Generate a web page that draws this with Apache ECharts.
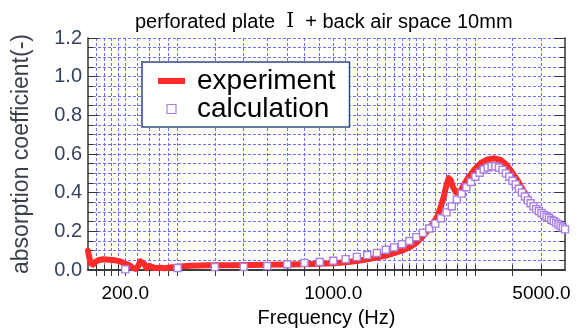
<!DOCTYPE html>
<html>
<head>
<meta charset="utf-8">
<script src="https://cdn.jsdelivr.net/npm/echarts@6/dist/echarts.min.js"></script>
<style>
  html, body { margin: 0; padding: 0; background: #fff; }
  #chart { width: 579px; height: 335px; }
</style>
</head>
<body>
<div id="chart"></div>
<script>
// measured absorption (red line)
const expFreq = [150, 151, 153, 156, 159, 163, 169, 176, 184, 191, 198, 206, 213, 217, 221, 225, 228, 232, 236, 241,
  246, 252, 262, 272, 282, 294, 306, 330, 380, 450, 520, 600, 700, 800, 900, 1000, 1100, 1200, 1300, 1400,
  1500, 1600, 1700, 1800, 1900, 2000, 2080, 2150, 2240, 2300, 2350, 2400, 2440, 2480, 2520, 2580, 2630, 2680, 2720, 2830,
  2980, 3140, 3300, 3480, 3660, 3810, 3960, 4170, 4390, 4630, 4880, 5000]
const expAbs = [0.100, 0.075, 0.035, 0.028, 0.042, 0.052, 0.056, 0.053, 0.050, 0.046, 0.036, 0.026, 0.010, 0.006, 0.020, 0.045, 0.052, 0.030, 0.010, 0.022,
  0.016, 0.010, 0.012, 0.009, 0.013, 0.016, 0.018, 0.022, 0.024, 0.025, 0.026, 0.027, 0.029, 0.030, 0.032, 0.035, 0.040, 0.047, 0.055, 0.064,
  0.075, 0.087, 0.100, 0.117, 0.140, 0.175, 0.205, 0.235, 0.280, 0.330, 0.380, 0.440, 0.475, 0.465, 0.430, 0.402, 0.396, 0.410, 0.430, 0.475,
  0.520, 0.555, 0.572, 0.578, 0.568, 0.545, 0.510, 0.460, 0.400, 0.345, 0.305, 0.290]

// calculated absorption (open squares)
const calcFreq = [200, 300, 400, 500, 600, 700, 800, 900, 1000, 1100, 1200, 1300, 1400, 1500, 1600, 1700, 1800, 1900, 2000,
  2100, 2200, 2300, 2400, 2500, 2600, 2700, 2800, 2900, 3000, 3100, 3200, 3300, 3400, 3500, 3600, 3700, 3800, 3900, 4000,
  4100, 4200, 4300, 4400, 4500, 4600, 4700, 4800, 4900, 5000, 5100, 5200, 5300, 5400, 5500, 5600, 5700, 5800, 5900, 6000]
const calcAbs = [0.003, 0.010, 0.015, 0.016, 0.020, 0.030, 0.037, 0.041, 0.048, 0.056, 0.068, 0.077, 0.088, 0.105, 0.117, 0.133, 0.150, 0.170, 0.192,
  0.215, 0.240, 0.268, 0.298, 0.330, 0.365, 0.395, 0.428, 0.455, 0.482, 0.503, 0.520, 0.530, 0.537, 0.537, 0.530, 0.518, 0.500, 0.482, 0.462,
  0.443, 0.420, 0.400, 0.380, 0.360, 0.345, 0.330, 0.315, 0.305, 0.295, 0.285, 0.277, 0.270, 0.260, 0.253, 0.245, 0.237, 0.228, 0.220, 0.210]

// log axis ticks / grid lines and labelled values
const xTicks = [160, 170, 180, 190, 200, 220, 240, 260, 280, 300, 400, 500, 600, 700, 800, 900, 1000,
  1100, 1200, 1300, 1400, 1500, 1600, 1700, 1800, 1900, 2000, 2200, 2400, 2600, 2800, 3000, 4000, 5000]
const xLabels = [200, 1000, 5000]

const FONT = "'Liberation Sans', Arial, 'Noto Sans CJK JP', sans-serif"
const gridLine = { color: '#6e6eff', width: 1, type: [3, 2] }
const axisLine = { show: true, lineStyle: { color: '#333', width: 1.5 } }

const chart = echarts.init(document.getElementById('chart'), null, { renderer: 'canvas' })

const xBase = {
  type: 'log',
  min: 150,
  max: 6000,
  gridIndex: 0,
  axisLine: axisLine
}
const yBase = {
  type: 'value',
  min: 0,
  max: 1.2,
  interval: 0.2,
  axisLine: axisLine,
  axisTick: { show: true, inside: true, length: 10, lineStyle: { color: '#333' } },
  minorTick: { show: true, splitNumber: 4, length: 5, lineStyle: { color: '#333' } }
}

chart.setOption({
  animation: false,
  title: {
    text: 'perforated plate  {r|Ⅰ}  + back air space 10mm',
    left: 130,
    top: 7,
    textStyle: {
      fontFamily: FONT, fontSize: 20, fontWeight: 'normal', color: '#000',
      rich: { r: { fontFamily: "'Liberation Serif', 'DejaVu Serif', serif", fontSize: 20, color: '#000' } }
    }
  },
  grid: { left: 88, right: 14, top: 38, bottom: 65 },
  legend: {
    orient: 'vertical',
    left: 142,
    top: 62,
    padding: [5, 14, 4, 16],
    itemGap: 0,
    itemWidth: 27,
    itemHeight: 9,
    backgroundColor: '#fff',
    borderColor: '#2f4b7c',
    borderWidth: 1.5,
    textStyle: { fontFamily: FONT, fontSize: 28, color: '#000', lineHeight: 26, padding: [0, 0, 0, 7] },
    data: [
      { name: 'experiment', icon: 'path://M0,0 L27,0 L27,6 L0,6 Z', itemStyle: { color: '#ff2b2b' } },
      { name: 'calculation', icon: 'path://M0,0 L9,0 L9,9 L0,9 Z',
        itemStyle: { color: '#fff', borderColor: '#a97fe3', borderWidth: 1.2 } }
    ]
  },
  xAxis: [
    Object.assign({}, xBase, {
      position: 'bottom',
      name: 'Frequency (Hz)',
      nameLocation: 'middle',
      nameGap: 38,
      nameTextStyle: { fontFamily: FONT, fontSize: 20, color: '#000' },
      axisTick: { show: true, inside: true, length: 5, customValues: xTicks, lineStyle: { color: '#333' } },
      axisLabel: {
        customValues: xLabels,
        margin: 14,
        fontFamily: FONT,
        fontSize: 19,
        color: '#000',
        formatter: v => Number(v).toFixed(1)
      },
      splitLine: { show: true, lineStyle: gridLine }
    }),
    Object.assign({}, xBase, {
      position: 'top',
      axisTick: { show: true, inside: true, length: 6, customValues: xTicks, lineStyle: { color: '#333' } },
      axisLabel: { show: false },
      splitLine: { show: false }
    })
  ],
  yAxis: [
    Object.assign({}, yBase, {
      position: 'left',
      name: 'absorption coefficient(-)',
      nameLocation: 'middle',
      nameGap: 55,
      nameTextStyle: { fontFamily: FONT, fontSize: 23, color: '#3a3f4c' },
      axisLabel: {
        margin: 6,
        fontFamily: FONT,
        fontSize: 20,
        color: '#34425f',
        formatter: v => v.toFixed(1)
      },
      splitLine: { show: true, lineStyle: gridLine },
      minorSplitLine: { show: true, lineStyle: gridLine }
    }),
    Object.assign({}, yBase, {
      position: 'right',
      axisLabel: { show: false },
      splitLine: { show: false }
    })
  ],
  series: [
    {
      name: 'experiment',
      type: 'line',
      xAxisIndex: 0,
      yAxisIndex: 0,
      data: expFreq.map((f, i) => [f, expAbs[i]]),
      showSymbol: false,
      symbol: 'none',
      lineStyle: { color: '#ff2b2b', width: 6, join: 'round', cap: 'round' },
      itemStyle: { color: '#ff2b2b' },
      z: 2
    },
    {
      name: 'calculation',
      type: 'scatter',
      xAxisIndex: 0,
      yAxisIndex: 0,
      data: calcFreq.map((f, i) => [f, calcAbs[i]]),
      symbol: 'rect',
      symbolSize: 7,
      itemStyle: { color: '#fff', borderColor: '#a97fe3', borderWidth: 1.4, opacity: 1 },
      z: 3
    }
  ]
})
</script>
</body>
</html>
